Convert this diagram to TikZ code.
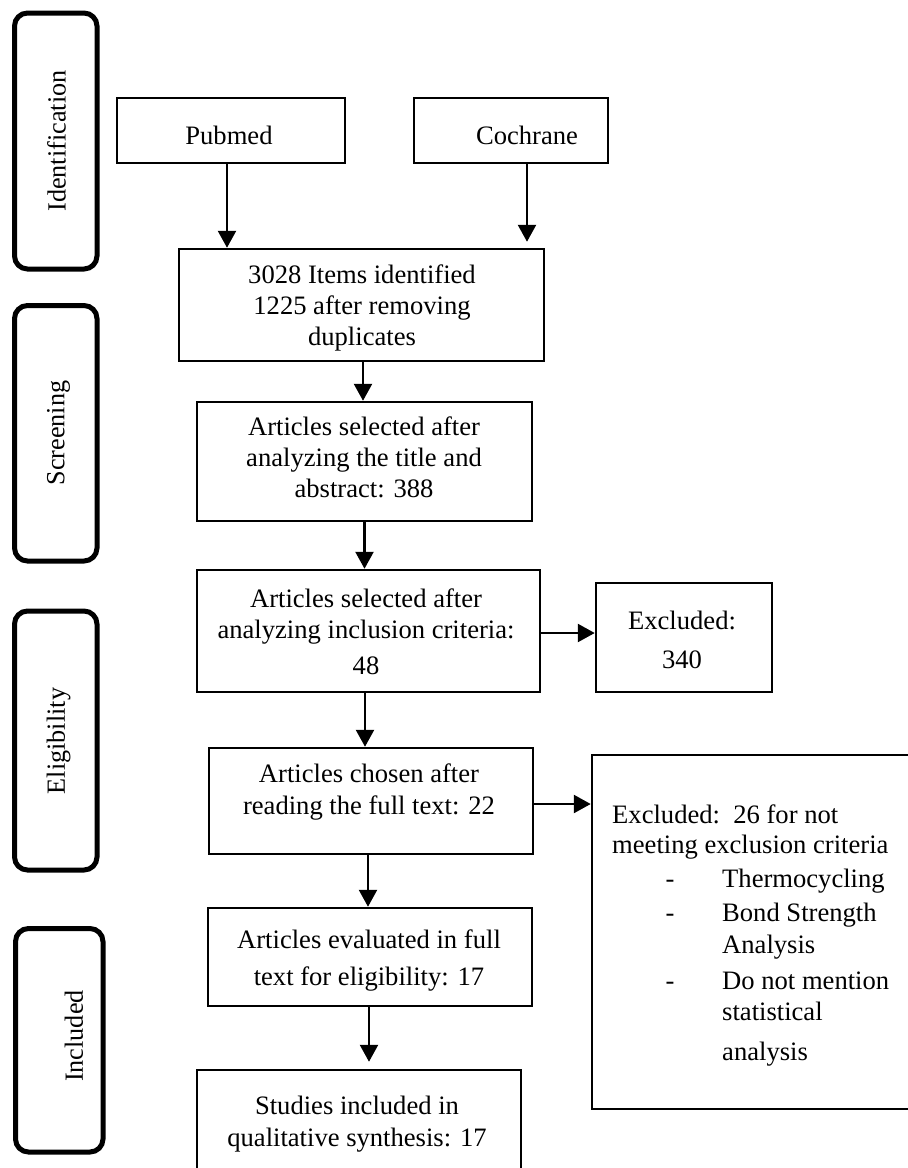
\documentclass[tikz,border=0pt]{standalone}
\usepackage{fontspec}
\setmainfont{Liberation Serif}
\usetikzlibrary{arrows.meta}
\newcommand{\bodyfs}{\fontsize{26.6}{31}\selectfont}
\newcommand{\sidefs}{\fontsize{26.2}{30}\selectfont}
\begin{document}
\begin{tikzpicture}[x=1pt,y=-1pt,
  box/.style={draw, line width=2.5pt, rectangle, inner sep=0pt},
  phase/.style={draw, line width=5pt, rounded corners=13pt, rectangle, inner sep=0pt},
  phasetxt/.style={rotate=90, font=\sidefs, inner sep=0pt},
  txt/.style={anchor=north, align=center, inner sep=0pt, font=\bodyfs},
  ltxt/.style={anchor=base west, inner sep=0pt, font=\bodyfs},
  dtxt/.style={anchor=base, inner sep=0pt, font=\bodyfs},
  arr/.style={line width=2.5pt, -{Triangle[width=18pt,length=17pt]}},
]
\useasboundingbox (0,0) rectangle (908,1168);
\clip (0,0) rectangle (908,1168);

% phase boxes
\node[phase, minimum width=82.5pt, minimum height=256pt] (idb) at (55.75,141) {};
\node[phase, minimum width=82.5pt, minimum height=255.5pt] (scb) at (55.75,433.25) {};
\node[phase, minimum width=82.5pt, minimum height=259pt] (elb) at (55.75,740.5) {};
\node[phase, minimum width=87.5pt, minimum height=223.5pt] (inb) at (59.25,1040.25) {};
\node[phasetxt] (idT) at (56.5,141) {Identification};
\node[phasetxt] (scT) at (58.5,433) {Screening};
\node[phasetxt] (elT) at (58.5,741) {Eligibility};
\node[phasetxt] (inT) at (74,1036) {Included};

% flow boxes
\node[box, minimum width=228pt, minimum height=65pt] (pub) at (231,130.5) {};
\node[box, minimum width=194pt, minimum height=65pt] (coch) at (511,130.5) {};
\node[box, minimum width=365pt, minimum height=112pt] (items) at (361.5,305) {};
\node[box, minimum width=335pt, minimum height=119pt] (screen) at (364.5,461.5) {};
\node[box, minimum width=343pt, minimum height=122pt] (incl) at (368.5,631) {};
\node[box, minimum width=176pt, minimum height=109pt] (exc1) at (684,637.5) {};
\node[box, minimum width=324pt, minimum height=106pt] (chosen) at (371,801) {};
\node[box, minimum width=338pt, minimum height=354pt] (exc2) at (761,932) {};
\node[box, minimum width=324pt, minimum height=98pt] (eval) at (370,957) {};
\node[box, minimum width=324pt, minimum height=120pt] (studies) at (359,1130) {};

% texts
\node[txt] (pubT) at (229,122.3) {\strut Pubmed};
\node[txt] (cochT) at (527,122.3) {\strut Cochrane};
\node[txt] (itemsT) at (362,261.3) {\strut 3028 Items identified\\1225 after removing\\duplicates};
\node[txt] (screenT) at (364,413.3) {\strut Articles selected after\\analyzing the title and\\abstract: 388};
\node[txt] (inclT) at (366,585.3) {\strut Articles selected after\\analyzing inclusion criteria:\\[5pt]48};
\node[txt] (exc1T) at (682,607.3) {\strut Excluded:\\[8pt]340};
\node[txt] (chosenT) at (369,760.3) {\strut Articles chosen after\\[1pt]reading the full text: 22};
\node[txt] (evalT) at (369,926.3) {\strut Articles evaluated in full\\[6pt]text for eligibility: 17};
\node[txt] (studT) at (357,1092.3) {\strut Studies included in\\[1pt]qualitative synthesis: 17};

\node[ltxt] (e1) at (612,823) {Excluded:\ \ 26 for not};
\node[ltxt] (e2) at (612,853) {meeting\ exclusion\ criteria};
\node[dtxt] (d1) at (670,887) {-};
\node[ltxt] (e3) at (722,887) {Thermocycling};
\node[dtxt] (d2) at (670,921) {-};
\node[ltxt] (e4) at (722,921) {Bond Strength};
\node[ltxt] (e5) at (722,953) {Analysis};
\node[dtxt] (d3) at (670,989) {-};
\node[ltxt] (e6) at (722,989) {Do not mention};
\node[ltxt] (e7) at (722,1020) {statistical};
\node[ltxt] (e8) at (722,1060) {analysis};

% arrows
\draw[arr] ([xshift=-4pt]pub.south) -- ([xshift=-4pt]pub.south |- items.north);
\draw[arr, shorten >=6pt] ([xshift=16pt]coch.south) -- ([xshift=16pt]coch.south |- items.north);
\draw[arr] ([xshift=1.5pt]items.south) -- ([xshift=1.5pt]items.south |- screen.north);
\draw[arr] (screen.south) -- (screen.south |- incl.north);
\draw[arr] ([yshift=-2pt]incl.east) -- ([yshift=-2pt]incl.east -| exc1.west);
\draw[arr] ([xshift=-3.5pt]incl.south) -- ([xshift=-3.5pt]incl.south |- chosen.north);
\draw[arr] ([yshift=-3pt]chosen.east) -- ([yshift=-3pt]chosen.east -| exc2.west);
\draw[arr] ([xshift=-3pt]chosen.south) -- ([xshift=-3pt]chosen.south |- eval.north);
\draw[arr, shorten >=7pt] ([xshift=-1pt]eval.south) -- ([xshift=-1pt]eval.south |- studies.north);
\end{tikzpicture}
\end{document}
